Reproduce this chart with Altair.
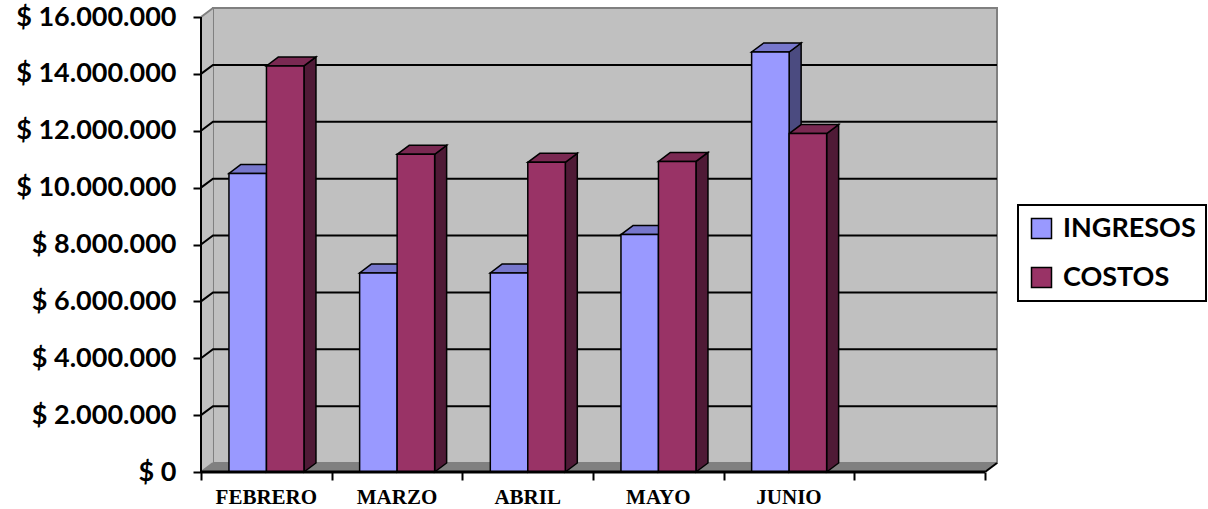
import altair as alt
import pandas as pd

# ---- data ----
MESES = ["FEBRERO", "MARZO", "ABRIL", "MAYO", "JUNIO"]
SERIES = ["INGRESOS", "COSTOS"]
INGRESOS = [10_500_000, 7_000_000, 7_000_000, 8_350_000, 14_770_000]
COSTOS = [14_280_000, 11_170_000, 10_890_000, 10_920_000, 11_900_000]
N_SLOTS = 6  # the category axis has one empty slot after JUNIO
Y_TICKS = [0, 2_000_000, 4_000_000, 6_000_000, 8_000_000,
           10_000_000, 12_000_000, 14_000_000, 16_000_000]

# ---- styling / pseudo-3D geometry ----
FRONT = {"INGRESOS": "#9999FF", "COSTOS": "#993366"}
TOP = {"INGRESOS": "#7777CC", "COSTOS": "#7A2952"}
SIDE = {"INGRESOS": "#4B4B80", "COSTOS": "#4F1A36"}
GAP = 0.214        # slot fraction before first bar
BAR_W = 0.287      # slot fraction per bar
DX = 0.0918        # depth, in category units
DY = 316_500       # depth, in value units
YMAX = Y_TICKS[-1]

W, H = 796, 464
XS = alt.Scale(domain=[0, N_SLOTS + DX], nice=False, zero=False)
YS = alt.Scale(domain=[0, YMAX + DY], nice=False, zero=False)
XAX = alt.Axis(values=list(range(N_SLOTS + 1)), labels=False, domain=False,
               grid=False, ticks=True, tickSize=8, tickWidth=2, tickColor="black",
               title=None)
YAX = alt.Axis(values=Y_TICKS, domain=False, grid=False, ticks=True, tickSize=8,
               tickWidth=2, tickColor="black", title=None,
               labelFont="Lato", labelFontSize=27, labelFontWeight="bold",
               labelColor="black", labelPadding=17,
               labelExpr="'$ ' + replace(replace(format(datum.value, ',.0f'), ',', '.'), ',', '.')")


def X(f):
    return alt.X(f, scale=XS, axis=XAX)


def Y(f):
    return alt.Y(f, scale=YS, axis=YAX)


# ---- build geometry tables from the data ----
values = {"INGRESOS": INGRESOS, "COSTOS": COSTOS}
fronts, sides, tops = [], [], []
for s_i, s in enumerate(SERIES):
    for i, m in enumerate(MESES):
        v = values[s][i]
        x0 = i + GAP + s_i * BAR_W
        x1 = x0 + BAR_W
        bid = f"{s}-{m}"
        fronts.append({"series": s, "mes": m, "x0": x0, "x1": x1, "y0": 0, "v": v})
        sides.append({"series": s, "bar": bid, "x": x1, "lo": 0, "hi": v})
        sides.append({"series": s, "bar": bid, "x": x1 + DX, "lo": DY, "hi": v + DY})
        tops.append({"series": s, "bar": bid, "y": v, "xa": x0, "xb": x1})
        tops.append({"series": s, "bar": bid, "y": v + DY, "xa": x0 + DX, "xb": x1 + DX})
fronts = pd.DataFrame(fronts)
sides = pd.DataFrame(sides)
tops = pd.DataFrame(tops)

# walls and floor
back_wall = pd.DataFrame([{"x0": DX, "x1": N_SLOTS + DX, "y0": DY, "y1": YMAX + DY}])
side_wall = pd.DataFrame([{"x": 0, "lo": 0, "hi": YMAX}, {"x": DX, "lo": DY, "hi": YMAX + DY}])
floor = pd.DataFrame([{"y": 0, "xa": 0, "xb": N_SLOTS}, {"y": DY, "xa": DX, "xb": N_SLOTS + DX}])

grid_rows = []
for g in Y_TICKS[1:-1]:
    grid_rows += [{"g": g, "x": 0, "y": g}, {"g": g, "x": DX, "y": g + DY},
                  {"g": g, "x": N_SLOTS + DX, "y": g + DY}]
grid = pd.DataFrame(grid_rows)

edges = pd.DataFrame([
    {"e": "top", "x": 0, "y": YMAX}, {"e": "top", "x": DX, "y": YMAX + DY},
    {"e": "bot", "x": 0, "y": 0}, {"e": "bot", "x": DX, "y": DY},
])
right_edge = pd.DataFrame([{"x": N_SLOTS, "y": 0}, {"x": N_SLOTS + DX, "y": DY}])
y_axis_line = pd.DataFrame([{"x": 0, "y0": 0, "y1": YMAX}])
x_axis_line = pd.DataFrame([{"x0": 0, "x1": N_SLOTS, "y": 0}])
labels = pd.DataFrame({"mes": MESES, "xc": [i + 0.5 for i in range(len(MESES))]})

layers = []
layers.append(alt.Chart(back_wall).mark_rect(fill="#C0C0C0", stroke="#808080", strokeWidth=2)
              .encode(x=X("x0:Q"), x2="x1:Q", y=Y("y0:Q"), y2="y1:Q"))
layers.append(alt.Chart(side_wall).mark_area(fill="#C0C0C0", opacity=1)
              .encode(x=X("x:Q"), y=Y("lo:Q"), y2="hi:Q"))
layers.append(alt.Chart(floor).mark_area(orient="horizontal", fill="#808080", opacity=1)
              .encode(y=Y("y:Q"), x=X("xa:Q"), x2="xb:Q"))
layers.append(alt.Chart(edges).mark_line(color="#808080", strokeWidth=2)
              .encode(x=X("x:Q"), y=Y("y:Q"), detail="e:N"))
layers.append(alt.Chart(grid).mark_line(color="black", strokeWidth=2)
              .encode(x=X("x:Q"), y=Y("y:Q"), detail="g:N"))

for s in SERIES:
    layers.append(alt.Chart(sides[sides.series == s])
                  .mark_area(fill=SIDE[s], opacity=1, stroke="black", strokeWidth=1.5)
                  .encode(x=X("x:Q"), y=Y("lo:Q"), y2="hi:Q", detail="bar:N"))
for s in SERIES:
    layers.append(alt.Chart(tops[tops.series == s])
                  .mark_area(orient="horizontal", fill=TOP[s], opacity=1, stroke="black", strokeWidth=1.5)
                  .encode(y=Y("y:Q"), x=X("xa:Q"), x2="xb:Q", detail="bar:N"))

layers.append(alt.Chart(fronts).mark_rect(stroke="black", strokeWidth=1.5, opacity=1)
              .encode(x=X("x0:Q"), x2="x1:Q", y=Y("y0:Q"), y2="v:Q",
                      color=alt.Color("series:N",
                                      scale=alt.Scale(domain=SERIES, range=[FRONT[s] for s in SERIES]),
                                      legend=alt.Legend(title=None, orient="none", legendX=817, legendY=197,
                                                        direction="vertical", symbolType="square",
                                                        symbolSize=400, symbolStrokeColor="black",
                                                        symbolStrokeWidth=1.5, symbolOpacity=1,
                                                        labelFont="Lato", labelFontSize=27,
                                                        labelFontWeight="bold", labelColor="black",
                                                        labelOffset=8, padding=10, rowPadding=21,
                                                        strokeColor="black", fillColor="white"))))

layers.append(alt.Chart(right_edge).mark_line(color="black", strokeWidth=2)
              .encode(x=X("x:Q"), y=Y("y:Q")))
layers.append(alt.Chart(y_axis_line).mark_rule(color="black", strokeWidth=2)
              .encode(x=X("x:Q"), y=Y("y0:Q"), y2="y1:Q"))
layers.append(alt.Chart(x_axis_line).mark_rule(color="black", strokeWidth=3)
              .encode(x=X("x0:Q"), x2="x1:Q", y=Y("y:Q")))
layers.append(alt.Chart(labels).mark_text(font="Liberation Serif", fontSize=21, fontWeight="bold",
                                          color="black", baseline="middle", align="center")
              .encode(x=X("xc:Q"), y=alt.value(H + 26), text="mes:N"))

chart = (alt.layer(*layers)
         .properties(width=W, height=H, autosize=alt.AutoSizeParams(type="none"),
                     padding={"left": 201, "top": 8, "right": 1208 - 201 - W, "bottom": 509 - 8 - H},
                     background="white")
         .configure_view(stroke=None)
         .configure_legend(strokeWidth=2))

chart.save("out.html", embed_options={"renderer": "svg", "actions": False})
